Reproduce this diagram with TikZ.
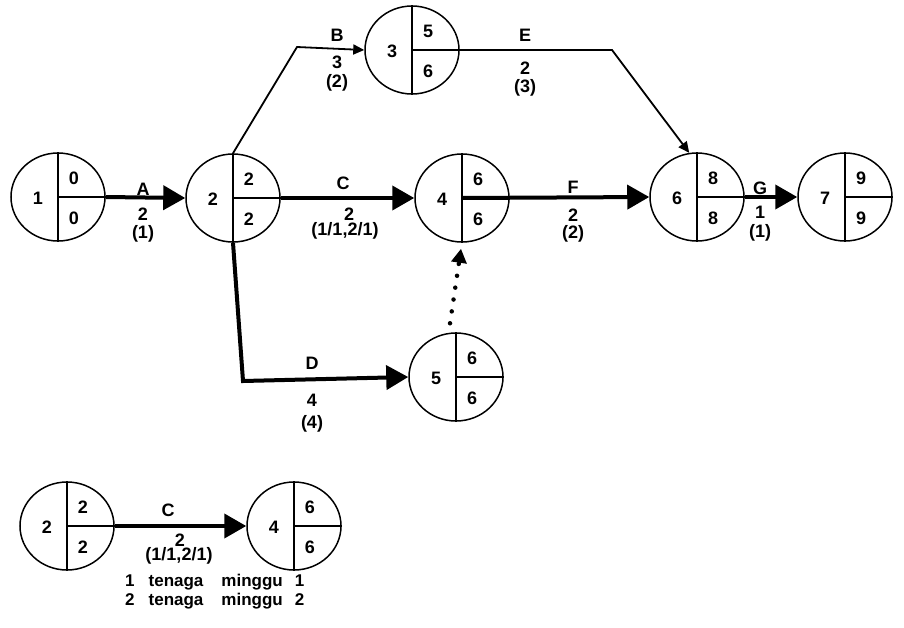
\documentclass[tikz,border=0pt]{standalone}
\usepackage{fontspec}
\setmainfont{Liberation Sans}
\usetikzlibrary{arrows.meta, shapes.geometric}

\begin{document}
\begin{tikzpicture}[
    x=1pt, y=-1pt,
    event/.style={ellipse, draw, line width=1.5pt, minimum width=94pt, minimum height=88pt, inner sep=0pt},
    num/.style={font=\fontsize{18}{20}\selectfont\bfseries, inner sep=0pt},
    lbl/.style={font=\fontsize{18}{20}\selectfont\bfseries, inner sep=0pt},
    note/.style={font=\fontsize{17}{19}\selectfont\bfseries, inner sep=0pt},
    crit/.style={line width=4pt, -{Triangle[length=22pt, width=24pt]}},
    thin/.style={line width=1.8pt, -{Triangle[length=11pt, width=10pt]}},
    dummy/.style={line width=4.5pt, line cap=round, dash pattern=on 0pt off 12pt, -{Triangle[length=14pt, width=15pt]}},
]
\useasboundingbox (0,0) rectangle (904,627);

% === EVENTS ===
\foreach \nm/\n/\px/\py/\es/\ls in {ev1/1/58/197/0/0, ev2/2/233/198/2/2, ev3/3/412/50/5/6,
        ev4/4/462/198/6/6, ev5/5/456/377/6/6, ev6/6/697/197/8/8, ev7/7/845/197/9/9,
        lg2/2/67/526/2/2, lg4/4/294/526/6/6} {
    \node[event] (\nm) at (\px,\py) {};
    \draw[line width=1.5pt] (\nm.north) -- (\nm.south);
    \draw[line width=1.5pt] (\nm.center) -- (\nm.east);
    \node[num] at ([xshift=-20pt, yshift=-1pt]\nm.center) {\n};
    \node[num] at ([xshift=16pt, yshift=19pt]\nm.center) {\es};
    \node[num] at ([xshift=16pt, yshift=-21pt]\nm.center) {\ls};
}

% === ACTIVITIES ===
\coordinate (bB) at (297,47);
\coordinate (bE) at (612,50);
\coordinate (bD) at (243,381);

\draw[crit] (ev1.east) -- (ev2.west);
\draw[thin] (ev2.north) -- (bB) -- (ev3.west);
\draw[thin] (ev3.east) -- (bE) -- (ev6.100);
\draw[crit] (ev2.east) -- (ev4.west);
\draw[crit] (ev2.south) -- (bD) -- (ev5.west);
\draw[dummy] ([xshift=-6pt, yshift=9pt]ev5.north) -- ([xshift=-1pt, yshift=-6pt]ev4.south);
\draw[crit] (ev4.center) -- (ev6.west);
\draw[crit] (ev6.east) -- (ev7.west);

% labels
\node[lbl] at (143,189) {A};
\node[lbl] at (143,214) {2};
\node[lbl] at (143,234) {(1)};

\node[lbl] at (337,35) {B};
\node[lbl] at (337,62) {3};
\node[lbl] at (337,83) {(2)};

\node[lbl] at (525,35) {E};
\node[lbl] at (525,68) {2};
\node[lbl] at (525,88) {(3)};

\node[lbl] at (343,183) {C};
\node[lbl] at (349,214) {2};
\node[lbl] at (345,231) {(1/1,2/1)};

\node[lbl] at (312,363) {D};
\node[lbl] at (312,400) {4};
\node[lbl] at (312,424) {(4)};

\node[lbl] at (573,187) {F};
\node[lbl] at (573,215) {2};
\node[lbl] at (573,234) {(2)};

\node[lbl] at (760,188) {G};
\node[lbl] at (760,212) {1};
\node[lbl] at (760,233) {(1)};

% === LEGEND ===
\draw[crit] (lg2.east) -- (lg4.west);
\node[lbl] at (168,510) {C};
\node[lbl] at (180,540) {2};
\node[lbl] at (179,556) {(1/1,2/1)};
\node[note, anchor=west] at (125,582) {1\hspace{14pt}tenaga\hspace{18pt}minggu\hspace{12pt}1};
\node[note, anchor=west] at (125,601) {2\hspace{14pt}tenaga\hspace{18pt}minggu\hspace{12pt}2};

\end{tikzpicture}
\end{document}
